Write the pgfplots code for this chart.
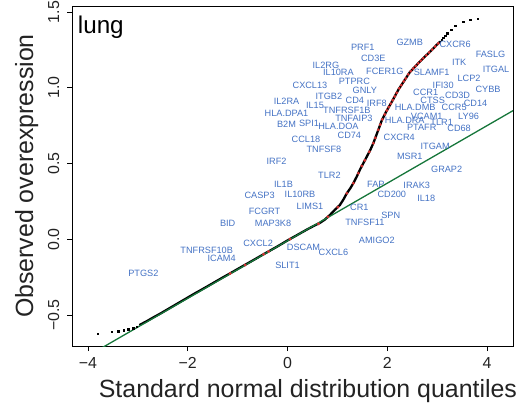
\documentclass[border=0pt]{standalone}
\usepackage{fontspec}
\setmainfont{Liberation Sans}
\usepackage{pgfplots}
\usepackage{pgfplotstable}
\pgfplotsset{compat=1.18}
\usetikzlibrary{calc}
\definecolor{lblue}{RGB}{68,114,196}
\definecolor{qgreen}{RGB}{22,118,58}
\definecolor{qred}{RGB}{215,50,50}
\definecolor{txt}{RGB}{35,35,35}

\pgfplotstableread{
x y
-2.96 -0.565
-2.82 -0.541
-2.70 -0.518
-2.56 -0.493
-2.40 -0.462
-2.29 -0.441
-2.15 -0.414
-2.02 -0.389
-1.88 -0.362
-1.75 -0.338
-1.60 -0.310
-1.49 -0.289
-1.30 -0.253
-1.09 -0.214
-0.90 -0.178
-0.69 -0.139
-0.50 -0.103
-0.35 -0.075
-0.20 -0.047
0.00 -0.008
0.20 0.029
0.40 0.066
0.55 0.092
0.65 0.108
0.75 0.130
0.85 0.160
0.95 0.195
1.05 0.226
1.12 0.262
1.19 0.304
1.26 0.337
1.32 0.370
1.39 0.415
1.45 0.458
1.52 0.502
1.59 0.546
1.66 0.590
1.72 0.634
1.77 0.678
1.82 0.722
1.89 0.785
1.99 0.850
2.06 0.890
2.12 0.925
2.22 0.986
2.35 1.052
2.45 1.102
2.59 1.151
2.72 1.195
2.86 1.239
2.99 1.283
3.06 1.305
}\curvedata

\pgfplotstableread{
x y
-3.80 -0.623
-3.52 -0.612
-3.39 -0.606
-3.28 -0.599
-3.19 -0.595
-3.09 -0.586
-3.02 -0.577
3.09 1.316
3.12 1.330
3.16 1.345
3.20 1.362
3.28 1.385
3.36 1.409
3.52 1.437
3.66 1.448
3.81 1.455
}\taildata

\pgfplotstableread{
x y
-1.15 -0.226
-0.85 -0.170
-0.48 -0.099
-0.38 -0.081
0.05 0.001
0.62 0.102
0.81 0.148
1.01 0.212
1.19 0.304
1.32 0.370
1.42 0.436
1.49 0.484
1.55 0.521
1.64 0.577
1.72 0.634
1.76 0.669
1.82 0.722
1.86 0.757
1.90 0.792
1.95 0.824
1.99 0.850
2.03 0.873
2.07 0.895
2.11 0.919
2.15 0.943
2.19 0.967
2.24 0.996
2.28 1.018
2.33 1.042
2.37 1.062
2.42 1.088
2.47 1.110
2.52 1.127
2.57 1.144
2.62 1.161
2.67 1.179
2.72 1.195
2.78 1.214
2.84 1.233
2.90 1.252
2.96 1.273
3.02 1.293
}\reddata

\pgfplotstableread{
x y label
1.51 1.266 PRF1
2.45 1.300 GZMB
3.36 1.288 CXCR6
1.72 1.193 CD3E
4.07 1.224 FASLG
0.77 1.147 IL2RG
3.44 1.167 ITK
1.02 1.100 IL10RA
1.95 1.107 FCER1G
2.89 1.100 SLAMF1
4.18 1.125 ITGAL
1.34 1.041 PTPRC
3.64 1.063 LCP2
3.12 1.019 IFI30
0.45 1.015 CXCL13
4.02 0.990 CYBB
1.55 0.980 GNLY
0.83 0.944 ITGB2
2.77 0.973 CCR1
3.41 0.953 CD3D
2.91 0.920 CTSS
-0.02 0.909 IL2RA
0.55 0.885 IL15
1.35 0.914 CD4
1.79 0.898 IRF8
3.34 0.872 CCR5
3.77 0.898 CD14
-0.02 0.832 HLA.DPA1
1.19 0.850 TNFRSF1B
2.56 0.872 HLA.DMB
1.33 0.800 TNFAIP3
2.79 0.814 VCAM1
3.63 0.814 LY96
-0.02 0.760 B2M
0.43 0.766 SPI1
1.02 0.744 HLA.DOA
2.35 0.783 HLA.DRA
3.09 0.770 TLR1
2.69 0.737 PTAFR
3.44 0.730 CD68
0.37 0.660 CCL18
1.24 0.689 CD74
2.24 0.671 CXCR4
0.73 0.596 TNFSF8
2.96 0.616 ITGAM
-0.22 0.517 IRF2
2.45 0.546 MSR1
3.19 0.464 GRAP2
0.84 0.420 TLR2
-0.08 0.363 IL1B
1.77 0.365 FAP
2.59 0.359 IRAK3
-0.56 0.293 CASP3
0.25 0.299 IL10RB
2.09 0.299 CD200
2.78 0.271 IL18
0.45 0.218 LIMS1
1.44 0.211 CR1
-0.46 0.182 FCGRT
-1.20 0.106 BID
-0.29 0.106 MAP3K8
2.07 0.160 SPN
1.55 0.110 TNFSF11
-0.59 -0.026 CXCL2
0.32 -0.053 DSCAM
1.79 -0.005 AMIGO2
-1.62 -0.075 TNFRSF10B
0.92 -0.086 CXCL6
-1.32 -0.126 ICAM4
0.00 -0.170 SLIT1
-2.89 -0.225 PTGS2
}\labeldata

\begin{document}
\begin{tikzpicture}
\begin{axis}[
  scale only axis,
  width=441bp, height=340bp,
  xmin=-4.32, xmax=4.52,
  ymin=-0.705, ymax=1.54,
  axis line style={line width=0.8bp, black},
  tick style={line width=0.8bp, black},
  tick align=outside,
  major tick length=5bp,
  xtick pos=bottom, ytick pos=left,
  xtick={-4,-2,0,2,4},
  xticklabels={−4,−2,0,2,4},
  ytick={-0.5,0,0.5,1,1.5},
  yticklabels={−0.5,0.0,0.5,1.0,1.5},
  ticklabel style={font=\fontsize{16}{19}\selectfont, text=txt},
  xticklabel style={anchor=base},
  xticklabel shift=17bp,
  yticklabel style={rotate=90, anchor=base},
  yticklabel shift=8bp,
  xlabel={Standard normal distribution quantiles},
  ylabel={Observed overexpression},
  label style={font=\fontsize{25}{30}\selectfont, text=txt},
  xlabel style={at={(axis description cs:0.535,-0.133)}, anchor=center},
  ylabel style={at={(axis description cs:-0.103,0.5)}, anchor=center},
  clip=true,
]
\addplot[black, line width=2.3bp, line join=round, line cap=round] table[x=x,y=y] {\curvedata};
\addplot[only marks, mark=square*, mark size=0.75bp, black] table[x=x,y=y] {\taildata};
\addplot[only marks, mark=*, mark size=1.25bp, qred, draw=none, fill=qred] table[x=x,y=y] {\reddata};
\addplot[qgreen, line width=1.3bp] coordinates {(-4.32,-0.831) (4.52,0.849)};
\addplot[only marks, mark=none, point meta=explicit symbolic,
  nodes near coords,
  every node near coord/.append style={anchor=center, inner sep=0pt, text=lblue, font=\fontsize{9.2}{11}\selectfont}]
  table[x=x,y=y,meta=label] {\labeldata};
\node[anchor=base west, inner sep=0pt, font=\fontsize{24.3}{28}\selectfont] at (axis description cs:0.013,0.92) {lung};
\end{axis}
\pgfresetboundingbox
\path[use as bounding box] ($(current axis.south west)+(-72bp,-66bp)$) rectangle ($(current axis.north east)+(10bp,6bp)$);
\end{tikzpicture}
\end{document}
